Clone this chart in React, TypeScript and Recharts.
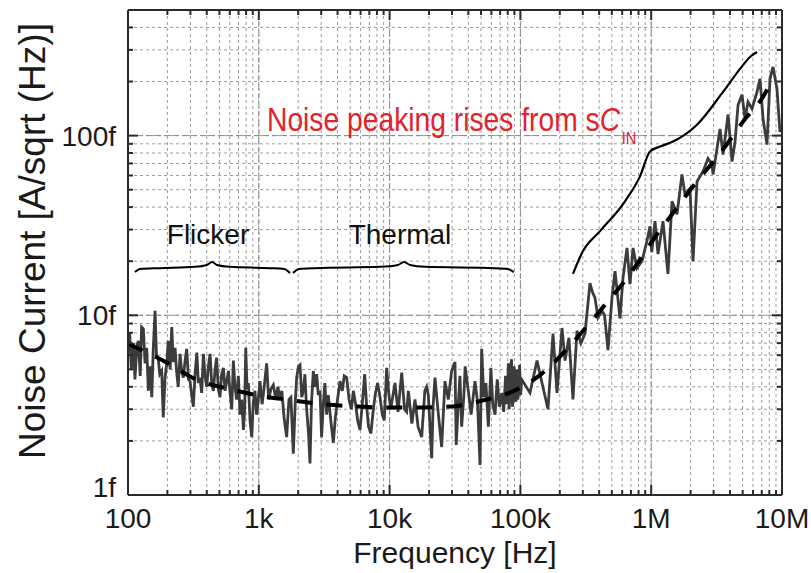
import { LineChart, Line, XAxis, YAxis, CartesianGrid, ReferenceLine, ReferenceDot, Label } from 'recharts';

// measured noise, [frequency Hz, current fA/sqrt(Hz)]
const lowBandNoise = [
  [100, 6.2], [103, 8.0], [106, 5.0], [110, 7.0], [113, 4.4], [117, 6.8], [120, 7.2], [124, 4.6], [127, 8.6],
  [131, 8.4], [135, 5.4], [139, 6.6], [143, 3.8], [148, 5.2], [152, 3.5], [156, 6.5], [161, 10.6], [165, 6.0],
  [170, 5.8], [175, 4.7], [181, 4.9], [186, 2.7], [192, 4.5], [198, 5.4], [203, 7.2], [210, 5.0], [216, 8.6],
  [222, 5.5], [229, 6.6], [235, 4.9], [242, 4.0], [250, 6.1], [257, 4.9], [265, 4.5], [273, 5.6], [281, 6.5],
  [290, 4.4], [298, 4.3], [307, 3.6], [316, 3.1], [326, 4.8], [336, 6.2], [345, 4.2], [355, 4.5], [366, 3.7],
  [377, 6.1], [388, 4.6], [400, 4.0], [412, 5.2], [424, 6.1], [437, 4.1], [450, 3.8], [463, 5.0], [476, 5.8],
  [490, 3.9], [505, 3.5], [520, 4.7], [536, 5.1], [552, 3.8], [569, 4.3], [586, 4.9], [603, 3.7], [621, 3.0],
  [639, 5.6], [658, 4.0], [677, 3.4], [698, 4.6], [719, 2.8], [741, 3.4], [763, 2.3], [780, 3.0], [795, 6.6],
  [813, 3.9], [832, 4.2], [857, 2.6], [883, 2.1], [908, 3.3], [935, 3.8], [962, 2.8], [991, 3.4],
];
const midBandNoise = [
  [1021, 4.3], [1060, 3.2], [1100, 4.0], [1148, 5.4], [1190, 3.4], [1240, 3.9], [1291, 4.1], [1350, 3.4],
  [1400, 4.0], [1452, 3.4], [1500, 3.8], [1560, 2.7], [1633, 2.1], [1700, 3.4], [1760, 3.5], [1836, 1.7],
  [1900, 3.3], [1948, 4.5], [2010, 5.2], [2065, 5.3], [2130, 3.5], [2190, 3.8], [2250, 4.7], [2322, 3.0],
  [2400, 2.2], [2462, 1.5], [2530, 3.3], [2611, 4.9], [2690, 4.0], [2770, 4.7], [2850, 3.6], [2937, 3.8],
  [3020, 2.1], [3114, 3.2], [3200, 4.2], [3302, 2.8], [3400, 3.6], [3550, 2.6], [3713, 1.95], [3850, 2.7],
  [4000, 3.4], [4176, 4.3], [4350, 3.8], [4500, 4.6], [4696, 4.5], [4900, 3.4], [5100, 3.0], [5281, 3.8],
  [5500, 3.2], [5700, 2.6], [5939, 2.3], [6200, 3.3], [6450, 4.7], [6678, 3.1], [6900, 2.4], [7200, 2.2],
  [7510, 3.0], [7800, 3.7], [8100, 4.2], [8446, 3.5], [8800, 2.8], [9100, 2.6], [9499, 5.1], [9800, 3.8],
  [10200, 3.0],
];
const highBandNoise = [
  [10990, 4.2], [11600, 2.9], [12375, 4.8], [13000, 3.0], [13500, 2.9], [13910, 3.8], [14800, 2.5], [15640, 3.4],
  [16500, 2.4], [17590, 2.1], [18600, 3.8], [19200, 4.0], [19770, 3.6], [20980, 1.6], [21500, 3.1], [22230, 4.5],
  [23500, 2.9], [25000, 1.85], [26500, 4.3], [28110, 3.4], [29800, 4.9], [31620, 5.5], [32300, 1.9], [33500, 3.2],
  [34500, 4.6], [35560, 2.4], [37000, 3.6], [37800, 5.2], [39990, 3.8], [42000, 2.8], [44970, 4.3], [47000, 3.3],
  [49120, 1.47], [50570, 6.5], [52500, 3.5], [54500, 4.2], [56880, 2.4], [59500, 5.1], [61500, 3.2], [63960, 2.8],
  [66500, 4.4], [69000, 3.1], [71930, 3.7], [74500, 2.9], [77000, 4.6], [79000, 3.2], [80900, 5.4], [82000, 3.0],
  [83000, 3.5], [84500, 5.0], [85500, 5.7], [87000, 3.1], [88000, 3.4], [89500, 5.2], [90970, 4.1], [92500, 3.3],
  [94000, 5.0], [95500, 3.4], [97000, 3.7], [98500, 5.3], [100500, 3.6], [102300, 4.4],
];
const peakingNoise = [
  [118400, 3.7], [134000, 5.6], [146300, 4.2], [162500, 3.0], [177500, 7.9], [190500, 3.7], [208000, 8.5],
  [219300, 5.6], [235000, 7.5], [252300, 3.4], [270800, 8.2], [290000, 7.0], [311700, 7.9], [340400, 15.1],
  [355000, 13.5], [371800, 12.5], [391800, 9.7], [420500, 10.6], [440000, 10.0], [467400, 6.4], [501200, 12.5],
  [528800, 17.6], [577400, 9.6], [608400, 16.1], [653000, 23.7], [688500, 14.9], [726000, 23.7], [778000, 18.3],
  [850000, 20.0], [928000, 25.9], [979000, 31.3], [1010000, 22.5], [1069000, 33.4], [1127000, 21.9],
  [1231000, 33.4], [1343000, 17.0], [1443000, 43.1], [1575000, 36.5], [1719000, 60.8], [1813000, 47.1],
  [1980000, 50.8], [2088000, 20.0], [2240000, 55.6], [2490000, 63.2], [2718000, 74.6], [2918000, 69.0],
  [2969000, 60.8], [3186000, 84.7], [3359000, 109], [3540000, 78.5], [3871000, 131], [4150000, 71.8],
  [4376000, 92.6], [4614000, 148], [4946000, 169], [5214000, 124], [5497000, 154], [5895000, 141],
  [6442000, 175], [6792000, 207], [7161000, 124], [7679000, 89.1], [8096000, 207], [8535000, 241],
  [9153000, 182], [9650000, 105], [10000000, 112],
];

// fitted model (dashed)
const fitCurve = [
  [100, 6.95], [217, 5.25], [308, 4.51], [658, 3.82], [986, 3.58], [1825, 3.36], [3205, 3.19], [5632, 3.11],
  [9720, 3.07], [16500, 3.07], [30000, 3.11], [51800, 3.36], [91000, 3.82], [146000, 4.74], [271000, 7.5],
  [406000, 10.6], [689000, 17.0], [1030000, 26.2], [1443000, 36.5], [2240000, 55.6], [3357000, 79.5],
  [5035000, 119.6], [7680000, 180], [8530000, 212],
];

// annotation strokes
const flickerBrace = [
  [113, 17.4], [123.5, 18.1], [175.7, 18.3], [325, 18.6], [402, 19.05], [438, 19.8], [479, 19.05],
  [602, 18.6], [1218, 18.3], [1560, 18.1], [1732, 17.2],
];
const thermalBrace = [
  [1826, 17.2], [2028, 18.1], [2690, 18.3], [8446, 18.6], [11590, 19.05], [12880, 19.8], [14320, 19.05],
  [18650, 18.6], [63960, 18.3], [80350, 18.1], [89300, 17.4],
];
const peakingBracket = [
  [252300, 17.0], [301000, 22.8], [406000, 29.4], [630500, 43.1], [821000, 59.3], [979000, 81.5],
  [1168000, 86.9], [1468000, 92.6], [2239000, 115], [3540000, 175], [4775000, 235], [5692000, 274],
  [6442000, 292],
];

const xDecades = [100, 1000, 10000, 100000, 1000000];
const yDecades = [1, 10, 100];
const mantissas = [1, 2, 3, 4, 5, 6, 7, 8, 9];
const xMajors = [100, 1000, 10000, 100000, 1000000, 10000000];
const xMajorLabels = ['100', '1k', '10k', '100k', '1M', '10M'];
const yMajors = [1, 10, 100];
const yMajorLabels = ['1f', '10f', '100f'];

const xTicks = [...xDecades.flatMap((d) => mantissas.map((m) => m * d)), 10000000];
const yTicks = yDecades.flatMap((d) => mantissas.map((m) => m * d)).filter((v) => v <= 500);

const toPts = (arr: number[][]) => arr.map(([f, v]) => ({ f, v }));
const noiseData = toPts([...lowBandNoise, ...midBandNoise, ...highBandNoise, ...peakingNoise]);

const FONT = '"Liberation Sans", Arial, Helvetica, sans-serif';
const FRAME = '#2a2a2a';
const RED = '#e2232b';

const BottomTick = (p: any) => {
  const i = xMajors.indexOf(p.payload.value);
  return (
    <g>
      <line x1={p.x} y1={p.y} x2={p.x} y2={p.y - (i >= 0 ? 10 : 5)} stroke={FRAME} strokeWidth={2} />
      {i >= 0 && (
        <text x={p.x} y={p.y + 33} textAnchor="middle" fontSize={28} fontFamily={FONT} fill="#1a1a1a">
          {xMajorLabels[i]}
        </text>
      )}
    </g>
  );
};
const TopTick = (p: any) => {
  const major = xMajors.includes(p.payload.value);
  return <line x1={p.x} y1={p.y} x2={p.x} y2={p.y + (major ? 10 : 5)} stroke={FRAME} strokeWidth={2} />;
};
const LeftTick = (p: any) => {
  const i = yMajors.indexOf(p.payload.value);
  return (
    <g>
      <line x1={p.x} y1={p.y} x2={p.x + (i >= 0 ? 10 : 5)} y2={p.y} stroke={FRAME} strokeWidth={2} />
      {i >= 0 && (
        <text x={p.x - 12} y={p.y + (i === 0 ? 2 : 10)} textAnchor="end" fontSize={28} fontFamily={FONT} fill="#1a1a1a">
          {yMajorLabels[i]}
        </text>
      )}
    </g>
  );
};
const RightTick = (p: any) => {
  const major = yMajors.includes(p.payload.value);
  return <line x1={p.x} y1={p.y} x2={p.x - (major ? 10 : 5)} y2={p.y} stroke={FRAME} strokeWidth={2} />;
};

export default function App() {
  return (
    <div style={{ position: 'absolute', left: 0, top: 0, width: 811, height: 573, background: '#fff' }}>
      <LineChart width={811} height={573} margin={{ top: 9, right: 28, bottom: 77, left: 127 }}>
        <CartesianGrid stroke="#9c9c9c" strokeDasharray="3 3" strokeWidth={1} />
        <XAxis xAxisId={0} dataKey="f" type="number" scale="log" domain={[100, 10000000]} allowDataOverflow
          ticks={xTicks} interval={0} height={1} tickSize={0} tickMargin={0} tickLine={false}
          axisLine={{ stroke: FRAME, strokeWidth: 2 }} tick={BottomTick}>
          <Label value="Frequency [Hz]" position="bottom" offset={46} fontSize={30} fontFamily={FONT} fill="#1a1a1a" />
        </XAxis>
        <XAxis xAxisId="top" orientation="top" dataKey="f" type="number" scale="log" domain={[100, 10000000]}
          allowDataOverflow ticks={xTicks} interval={0} height={1} tickSize={0} tickMargin={0} tickLine={false}
          axisLine={{ stroke: FRAME, strokeWidth: 2 }} tick={TopTick} />
        <YAxis yAxisId={0} dataKey="v" type="number" scale="log" domain={[1, 500]} allowDataOverflow
          ticks={yTicks} interval={0} width={1} tickSize={0} tickMargin={0} tickLine={false}
          axisLine={{ stroke: FRAME, strokeWidth: 2 }} tick={LeftTick}>
          <Label
            content={() => (
              <text x={45} y={241} transform="rotate(-90 45 241)" textAnchor="middle" fontSize={37}
                fontFamily={FONT} fill="#1a1a1a">
                Noise Current [A/sqrt (Hz)]
              </text>
            )}
          />
        </YAxis>
        <YAxis yAxisId="right" orientation="right" type="number" scale="log" domain={[1, 500]} allowDataOverflow
          ticks={yTicks} interval={0} width={1} tickSize={0} tickMargin={0} tickLine={false}
          axisLine={{ stroke: FRAME, strokeWidth: 2 }} tick={RightTick} />

        {xMajors.map((x) => (
          <ReferenceLine key={'vx' + x} x={x} stroke="#8a8a8a" strokeDasharray="6 3" />
        ))}
        {yMajors.map((y) => (
          <ReferenceLine key={'hy' + y} y={y} stroke="#8a8a8a" strokeDasharray="6 3" />
        ))}

        <Line data={noiseData} dataKey="v" type="linear" stroke="#3c3c3c" strokeWidth={2.8} dot={false}
          activeDot={false} isAnimationActive={false} />
        <Line data={toPts(fitCurve)} dataKey="v" type="monotone" stroke="#000" strokeWidth={4}
          strokeDasharray="16 14" dot={false} activeDot={false} isAnimationActive={false} />
        <Line data={toPts(flickerBrace)} dataKey="v" type="monotone" stroke="#000" strokeWidth={2} dot={false}
          activeDot={false} isAnimationActive={false} />
        <Line data={toPts(thermalBrace)} dataKey="v" type="monotone" stroke="#000" strokeWidth={2} dot={false}
          activeDot={false} isAnimationActive={false} />
        <Line data={toPts(peakingBracket)} dataKey="v" type="monotone" stroke="#000" strokeWidth={2.2} dot={false}
          activeDot={false} isAnimationActive={false} />

        <ReferenceDot x={409} y={24.9} r={0}
          shape={(p: any) => (
            <text x={p.cx} y={p.cy} textAnchor="middle" fontSize={28} fontFamily={FONT} fill="#111">Flicker</text>
          )} />
        <ReferenceDot x={12010} y={24.9} r={0}
          shape={(p: any) => (
            <text x={p.cx} y={p.cy} textAnchor="middle" fontSize={28} fontFamily={FONT} fill="#111">Thermal</text>
          )} />
        <ReferenceDot x={1155} y={106.6} r={0}
          shape={(p: any) => (
            <text transform={`translate(${p.cx} ${p.cy}) scale(0.856 1)`} x={0} y={0} fontSize={33}
              fontFamily={FONT} fill={RED}>
              Noise peaking rises from s<tspan fontStyle="italic">C</tspan>
              <tspan fontSize={17} dy={13} dx={2}>IN</tspan>
            </text>
          )} />
      </LineChart>
    </div>
  );
}
